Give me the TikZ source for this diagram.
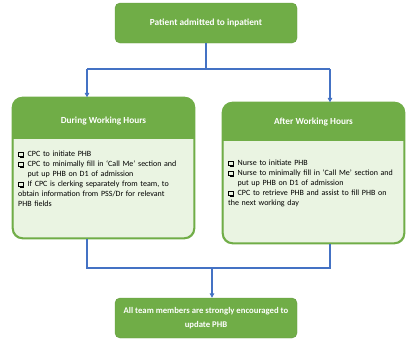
\documentclass[tikz,border=0pt]{standalone}
\usepackage{fontspec}
\setmainfont{Carlito}
\usetikzlibrary{arrows.meta,calc}
\definecolor{grn}{HTML}{70AD47}
\definecolor{grnlight}{HTML}{EAF4E2}
\definecolor{blu}{HTML}{4472C4}
\newcommand{\cbx}{\tikz[baseline=0pt]{\draw[line width=0.5pt] (0pt,0pt) rectangle (4.6pt,4.8pt); \draw[line width=1pt] (1.1pt,-0.5pt) -- (5.1pt,-0.5pt) -- (5.1pt,3.8pt);}}
\newcommand{\itm}[1]{\par\hangindent=9.5pt\hangafter=1\noindent\makebox[9.5pt][l]{\cbx}#1}
\begin{document}
\begin{tikzpicture}[x=1pt,y=-1pt,
  hdr/.style={rectangle, rounded corners=5pt, fill=grn, draw=grn!90!black, line width=0.4pt, text=white, font=\fontsize{8.7}{14.5}\selectfont\bfseries, align=center},
  panel/.style={rectangle, rounded corners=10pt, draw=grn, line width=1.3pt, fill=grnlight, inner sep=0pt},
  body/.style={anchor=north west, inner sep=0pt, text width=185pt, align=left, font=\fontsize{8}{10}\selectfont},
  ttl/.style={text=white, font=\fontsize{9.3}{10}\selectfont\bfseries, inner sep=0pt},
  conn/.style={draw=blu, line width=1.2pt},
  arr/.style={conn, -{Triangle[length=4.5pt,width=4.5pt]}}]
\useasboundingbox (0,0) rectangle (408,341);
% top
\node[hdr, minimum width=182pt, minimum height=40pt, font=\fontsize{9.3}{10}\selectfont\bfseries] (top) at (206,23) {Patient admitted to inpatient};
% panels
\node[panel, minimum width=181pt, minimum height=140pt] (lbox) at (103.5,168) {};
\node[panel, minimum width=181pt, minimum height=140pt] (rbox) at (313.5,173) {};
\begin{scope}
\clip[rounded corners=10pt] (lbox.south west) rectangle (lbox.north east);
\fill[grn] (lbox.north west) rectangle ($(lbox.north east)+(0,42)$);
\end{scope}
\begin{scope}
\clip[rounded corners=10pt] (rbox.south west) rectangle (rbox.north east);
\fill[grn] (rbox.north west) rectangle ($(rbox.north east)+(0,39)$);
\end{scope}
\draw[draw=grn, line width=1.3pt, rounded corners=10pt] (lbox.south west) rectangle (lbox.north east);
\draw[draw=grn, line width=1.3pt, rounded corners=10pt] (rbox.south west) rectangle (rbox.north east);
\node[ttl] (ltitle) at (103.5,121) {During Working Hours};
\node[ttl] (rtitle) at (313.5,122) {After Working Hours};
\node[body] (ltext) at (18,146.5) {%
\itm{CPC to initiate PHB}
\itm{CPC to minimally fill in ‘Call Me’ section and\newline put up PHB on D1 of admission}
\itm{If CPC is clerking separately from team, to\newline obtain information from PSS/Dr for relevant\newline PHB fields}};
\node[body] (rtext) at (228,155.5) {%
\itm{Nurse to initiate PHB}
\itm{Nurse to minimally fill in ‘Call Me’ section and\newline put up PHB on D1 of admission}
\itm{CPC to retrieve PHB and assist to fill PHB on\newline the next working day}};
% bottom
\node[hdr, minimum width=182pt, minimum height=40pt] (bot) at (206,318) {All team members are strongly encouraged to\\update PHB};
% connectors
\coordinate (split) at (206,69);
\coordinate (splitL) at (87,69);
\coordinate (splitR) at (330,69);
\coordinate (joinL) at (87,268);
\coordinate (joinR) at (330,268);
\coordinate (joinM) at (212,268);
\draw[conn] (top.south) -- (split);
\draw[conn] (splitL) -- (splitR);
\draw[arr] (splitL) -- (splitL |- lbox.north);
\draw[arr] (splitR) -- (splitR |- rbox.north);
\draw[conn] (joinL |- lbox.south) -- (joinL) -- (joinR) -- (joinR |- rbox.south);
\draw[arr] (joinM) -- (joinM |- bot.north);
\end{tikzpicture}
\end{document}
